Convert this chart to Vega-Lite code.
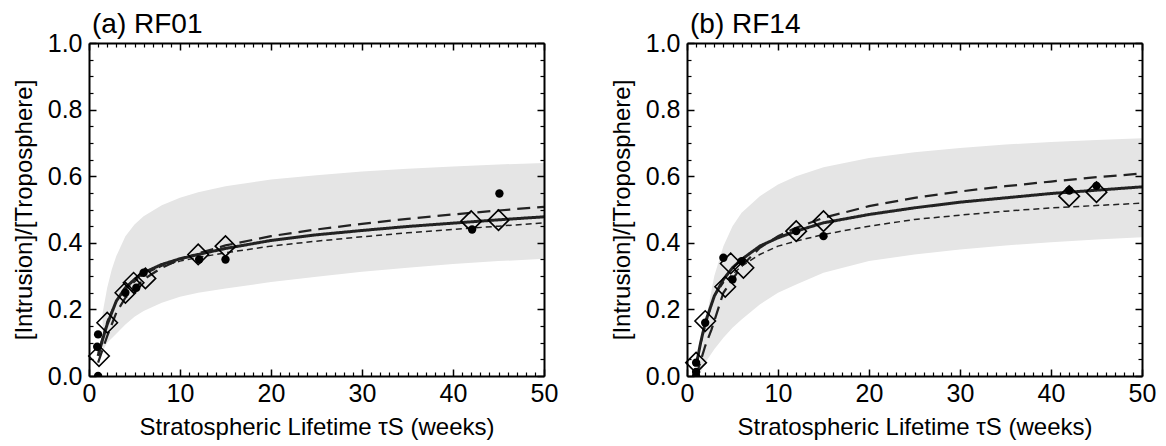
{
  "$schema": "https://vega.github.io/schema/vega-lite/v6.json",
  "padding": {"left": 12, "top": 11, "right": 5, "bottom": 2},
  "spacing": 52,
  "config": {
    "font": "Liberation Sans",
    "view": {"stroke": null},
    "axis": {"grid": false, "domainColor": "#000", "tickColor": "#000", "labelColor": "#000", "titleColor": "#000", "labelFont": "Liberation Sans", "titleFont": "Liberation Sans", "titleFontWeight": "normal"}
  },
  "datasets": {
    "bandA": [
      {"t": 1.5, "lo": 0.075, "hi": 0.19}, {"t": 2, "lo": 0.1, "hi": 0.265}, {"t": 2.5, "lo": 0.113, "hi": 0.32},
      {"t": 3, "lo": 0.127, "hi": 0.36}, {"t": 4, "lo": 0.155, "hi": 0.42}, {"t": 5, "lo": 0.178, "hi": 0.455},
      {"t": 6, "lo": 0.195, "hi": 0.48}, {"t": 8, "lo": 0.22, "hi": 0.513}, {"t": 10, "lo": 0.238, "hi": 0.535},
      {"t": 12, "lo": 0.25, "hi": 0.552}, {"t": 15, "lo": 0.263, "hi": 0.57}, {"t": 20, "lo": 0.282, "hi": 0.59},
      {"t": 25, "lo": 0.298, "hi": 0.603}, {"t": 30, "lo": 0.313, "hi": 0.614}, {"t": 35, "lo": 0.325, "hi": 0.622},
      {"t": 40, "lo": 0.336, "hi": 0.629}, {"t": 45, "lo": 0.345, "hi": 0.635}, {"t": 50, "lo": 0.352, "hi": 0.64}
    ],
    "curvesA": [
      {"model": "best", "t": 1, "y": 0.06}, {"model": "best", "t": 1.5, "y": 0.11}, {"model": "best", "t": 2, "y": 0.155},
      {"model": "best", "t": 3, "y": 0.225}, {"model": "best", "t": 4, "y": 0.265}, {"model": "best", "t": 5, "y": 0.29},
      {"model": "best", "t": 6, "y": 0.31}, {"model": "best", "t": 8, "y": 0.335}, {"model": "best", "t": 10, "y": 0.352},
      {"model": "best", "t": 12, "y": 0.365}, {"model": "best", "t": 15, "y": 0.383}, {"model": "best", "t": 20, "y": 0.407},
      {"model": "best", "t": 25, "y": 0.424}, {"model": "best", "t": 30, "y": 0.437}, {"model": "best", "t": 35, "y": 0.449},
      {"model": "best", "t": 40, "y": 0.459}, {"model": "best", "t": 45, "y": 0.469}, {"model": "best", "t": 50, "y": 0.478},
      {"model": "alt1", "t": 1, "y": 0.04}, {"model": "alt1", "t": 2, "y": 0.12}, {"model": "alt1", "t": 3, "y": 0.19},
      {"model": "alt1", "t": 4, "y": 0.235}, {"model": "alt1", "t": 6, "y": 0.29}, {"model": "alt1", "t": 8, "y": 0.325},
      {"model": "alt1", "t": 10, "y": 0.35}, {"model": "alt1", "t": 12, "y": 0.368}, {"model": "alt1", "t": 15, "y": 0.392},
      {"model": "alt1", "t": 20, "y": 0.42}, {"model": "alt1", "t": 25, "y": 0.44}, {"model": "alt1", "t": 30, "y": 0.457},
      {"model": "alt1", "t": 35, "y": 0.472}, {"model": "alt1", "t": 40, "y": 0.485}, {"model": "alt1", "t": 45, "y": 0.497},
      {"model": "alt1", "t": 50, "y": 0.508},
      {"model": "alt2", "t": 1, "y": 0.07}, {"model": "alt2", "t": 2, "y": 0.165}, {"model": "alt2", "t": 3, "y": 0.225},
      {"model": "alt2", "t": 4, "y": 0.26}, {"model": "alt2", "t": 6, "y": 0.305}, {"model": "alt2", "t": 8, "y": 0.33},
      {"model": "alt2", "t": 10, "y": 0.345}, {"model": "alt2", "t": 12, "y": 0.356}, {"model": "alt2", "t": 15, "y": 0.37},
      {"model": "alt2", "t": 20, "y": 0.39}, {"model": "alt2", "t": 25, "y": 0.405}, {"model": "alt2", "t": 30, "y": 0.418},
      {"model": "alt2", "t": 35, "y": 0.43}, {"model": "alt2", "t": 40, "y": 0.44}, {"model": "alt2", "t": 45, "y": 0.45},
      {"model": "alt2", "t": 50, "y": 0.46}
    ],
    "obsA": [
      {"t": 1, "y": 0.125}, {"t": 0.9, "y": 0.088}, {"t": 1, "y": 0.0}, {"t": 4, "y": 0.25}, {"t": 5.2, "y": 0.265},
      {"t": 6, "y": 0.31}, {"t": 12.1, "y": 0.35}, {"t": 15, "y": 0.35}, {"t": 42.1, "y": 0.44}, {"t": 45.1, "y": 0.548}
    ],
    "modA": [
      {"t": 1.1, "y": 0.06}, {"t": 2, "y": 0.16}, {"t": 4, "y": 0.25}, {"t": 4.9, "y": 0.28}, {"t": 6.2, "y": 0.293},
      {"t": 12, "y": 0.365}, {"t": 15, "y": 0.39}, {"t": 42, "y": 0.465}, {"t": 45, "y": 0.468}
    ],
    "bandB": [
      {"t": 1.2, "lo": 0.0, "hi": 0.02}, {"t": 1.5, "lo": 0.01, "hi": 0.06}, {"t": 2, "lo": 0.04, "hi": 0.15},
      {"t": 2.5, "lo": 0.06, "hi": 0.23}, {"t": 3, "lo": 0.08, "hi": 0.3}, {"t": 4, "lo": 0.115, "hi": 0.39},
      {"t": 5, "lo": 0.145, "hi": 0.45}, {"t": 6, "lo": 0.17, "hi": 0.49}, {"t": 8, "lo": 0.215, "hi": 0.54},
      {"t": 10, "lo": 0.25, "hi": 0.575}, {"t": 12, "lo": 0.275, "hi": 0.6}, {"t": 15, "lo": 0.31, "hi": 0.627},
      {"t": 20, "lo": 0.345, "hi": 0.655}, {"t": 25, "lo": 0.365, "hi": 0.672}, {"t": 30, "lo": 0.38, "hi": 0.685},
      {"t": 35, "lo": 0.392, "hi": 0.695}, {"t": 40, "lo": 0.402, "hi": 0.703}, {"t": 45, "lo": 0.41, "hi": 0.709},
      {"t": 50, "lo": 0.417, "hi": 0.714}
    ],
    "curvesB": [
      {"model": "best", "t": 1, "y": 0.03}, {"model": "best", "t": 1.5, "y": 0.1}, {"model": "best", "t": 2, "y": 0.16},
      {"model": "best", "t": 3, "y": 0.24}, {"model": "best", "t": 4, "y": 0.29}, {"model": "best", "t": 5, "y": 0.325},
      {"model": "best", "t": 6, "y": 0.35}, {"model": "best", "t": 8, "y": 0.39}, {"model": "best", "t": 10, "y": 0.415},
      {"model": "best", "t": 12, "y": 0.435}, {"model": "best", "t": 15, "y": 0.46}, {"model": "best", "t": 20, "y": 0.485},
      {"model": "best", "t": 25, "y": 0.505}, {"model": "best", "t": 30, "y": 0.522}, {"model": "best", "t": 35, "y": 0.535},
      {"model": "best", "t": 40, "y": 0.548}, {"model": "best", "t": 45, "y": 0.558}, {"model": "best", "t": 50, "y": 0.568},
      {"model": "alt1", "t": 1, "y": 0.0}, {"model": "alt1", "t": 2, "y": 0.09}, {"model": "alt1", "t": 2.7, "y": 0.14},
      {"model": "alt1", "t": 4, "y": 0.25}, {"model": "alt1", "t": 6, "y": 0.33}, {"model": "alt1", "t": 8, "y": 0.385},
      {"model": "alt1", "t": 10, "y": 0.42}, {"model": "alt1", "t": 12, "y": 0.445}, {"model": "alt1", "t": 15, "y": 0.475},
      {"model": "alt1", "t": 20, "y": 0.51}, {"model": "alt1", "t": 25, "y": 0.535}, {"model": "alt1", "t": 30, "y": 0.554},
      {"model": "alt1", "t": 35, "y": 0.57}, {"model": "alt1", "t": 40, "y": 0.584}, {"model": "alt1", "t": 45, "y": 0.597},
      {"model": "alt1", "t": 50, "y": 0.608},
      {"model": "alt2", "t": 1, "y": 0.04}, {"model": "alt2", "t": 2, "y": 0.15}, {"model": "alt2", "t": 3, "y": 0.24},
      {"model": "alt2", "t": 4, "y": 0.28}, {"model": "alt2", "t": 6, "y": 0.33}, {"model": "alt2", "t": 8, "y": 0.365},
      {"model": "alt2", "t": 10, "y": 0.39}, {"model": "alt2", "t": 12, "y": 0.405}, {"model": "alt2", "t": 15, "y": 0.425},
      {"model": "alt2", "t": 20, "y": 0.45}, {"model": "alt2", "t": 25, "y": 0.47}, {"model": "alt2", "t": 30, "y": 0.483},
      {"model": "alt2", "t": 35, "y": 0.495}, {"model": "alt2", "t": 40, "y": 0.505}, {"model": "alt2", "t": 45, "y": 0.512},
      {"model": "alt2", "t": 50, "y": 0.519}
    ],
    "obsB": [
      {"t": 1, "y": 0.04}, {"t": 1, "y": 0.012}, {"t": 1, "y": 0.0}, {"t": 2, "y": 0.16}, {"t": 4, "y": 0.355},
      {"t": 5, "y": 0.29}, {"t": 6, "y": 0.345}, {"t": 12, "y": 0.435}, {"t": 15, "y": 0.42}, {"t": 42, "y": 0.557},
      {"t": 45, "y": 0.571}
    ],
    "modB": [
      {"t": 1, "y": 0.04}, {"t": 2, "y": 0.165}, {"t": 4.2, "y": 0.268}, {"t": 4.8, "y": 0.338}, {"t": 6.2, "y": 0.325},
      {"t": 12, "y": 0.435}, {"t": 15, "y": 0.465}, {"t": 42, "y": 0.54}, {"t": 45, "y": 0.552}
    ]
  },
  "hconcat": [
    {
      "width": 455, "height": 333,
      "title": {"text": "(a) RF01", "anchor": "start", "frame": "group", "fontSize": 28, "font": "Liberation Sans", "fontWeight": "normal", "color": "#000", "offset": -8, "dx": 3},
      "resolve": {"axis": {"x": "independent", "y": "independent"}},
      "layer": [
        {
          "data": {"name": "bandA"},
          "mark": {"type": "area", "color": "#e5e5e5", "opacity": 1},
          "encoding": {
            "x": {"field": "t", "type": "quantitative", "scale": {"domain": [0, 50], "nice": false},
              "axis": {"orient": "bottom", "values": [0, 10, 20, 30, 40, 50], "tickSize": -7, "tickWidth": 1.5, "domain": true, "domainWidth": 2, "labelFontSize": 25, "labelPadding": 12, "labelFlush": false, "labelOverlap": false, "labelBound": false, "title": "Stratospheric Lifetime τS (weeks)", "titleFontSize": 24, "titlePadding": 9, "zindex": 1}},
            "y": {"field": "lo", "type": "quantitative", "scale": {"domain": [0, 1], "nice": false},
              "axis": {"orient": "left", "values": [0, 0.2, 0.4, 0.6, 0.8, 1.0], "format": ".1f", "tickSize": -7, "tickWidth": 1.5, "domain": true, "domainWidth": 2, "labelFontSize": 25, "labelPadding": 14, "labelFlush": false, "labelOverlap": false, "labelBound": false, "title": "[Intrusion]/[Troposphere]", "titleFontSize": 24, "titlePadding": 11, "zindex": 1}},
            "y2": {"field": "hi"}
          }
        },
        {
          "data": {"name": "curvesA"},
          "mark": {"type": "line", "color": "#222"},
          "encoding": {
            "x": {"field": "t", "type": "quantitative",
              "axis": {"orient": "bottom", "values": [1,2,3,4,5,6,7,8,9,11,12,13,14,15,16,17,18,19,21,22,23,24,25,26,27,28,29,31,32,33,34,35,36,37,38,39,41,42,43,44,45,46,47,48,49], "tickSize": -4, "tickWidth": 1.2, "domain": false, "labels": false, "title": null, "zindex": 1}},
            "y": {"field": "y", "type": "quantitative",
              "axis": {"orient": "left", "values": [0.05,0.1,0.15,0.25,0.3,0.35,0.45,0.5,0.55,0.65,0.7,0.75,0.85,0.9,0.95], "tickSize": -4, "tickWidth": 1.2, "domain": false, "labels": false, "title": null, "zindex": 1}},
            "strokeDash": {"field": "model", "type": "nominal", "scale": {"domain": ["best", "alt1", "alt2"], "range": [[1, 0], [13, 7], [6, 4]]}, "legend": null},
            "strokeWidth": {"field": "model", "type": "nominal", "scale": {"domain": ["best", "alt1", "alt2"], "range": [3, 1.5, 1.5]}, "legend": null}
          }
        },
        {
          "data": {"name": "obsA"},
          "mark": {"type": "point", "shape": "circle", "filled": true, "color": "#000", "size": 70, "opacity": 1, "clip": true},
          "encoding": {
            "x": {"field": "t", "type": "quantitative",
              "axis": {"orient": "top", "values": [0, 10, 20, 30, 40, 50], "tickSize": -7, "tickWidth": 1.5, "domain": true, "domainWidth": 2, "labels": false, "title": null, "zindex": 1}},
            "y": {"field": "y", "type": "quantitative",
              "axis": {"orient": "right", "values": [0, 0.2, 0.4, 0.6, 0.8, 1.0], "tickSize": -7, "tickWidth": 1.5, "domain": true, "domainWidth": 2, "labels": false, "title": null, "zindex": 1}}
          }
        },
        {
          "data": {"name": "modA"},
          "mark": {"type": "point", "shape": "diamond", "filled": false, "color": "#000", "strokeWidth": 1.6, "size": 420, "opacity": 1},
          "encoding": {
            "x": {"field": "t", "type": "quantitative",
              "axis": {"orient": "top", "values": [1,2,3,4,5,6,7,8,9,11,12,13,14,15,16,17,18,19,21,22,23,24,25,26,27,28,29,31,32,33,34,35,36,37,38,39,41,42,43,44,45,46,47,48,49], "tickSize": -4, "tickWidth": 1.2, "domain": false, "labels": false, "title": null, "zindex": 1}},
            "y": {"field": "y", "type": "quantitative",
              "axis": {"orient": "right", "values": [0.05,0.1,0.15,0.25,0.3,0.35,0.45,0.5,0.55,0.65,0.7,0.75,0.85,0.9,0.95], "tickSize": -4, "tickWidth": 1.2, "domain": false, "labels": false, "title": null, "zindex": 1}}
          }
        }
      ]
    },
    {
      "width": 455, "height": 333,
      "title": {"text": "(b) RF14", "anchor": "start", "frame": "group", "fontSize": 28, "font": "Liberation Sans", "fontWeight": "normal", "color": "#000", "offset": -8, "dx": 3},
      "resolve": {"axis": {"x": "independent", "y": "independent"}},
      "layer": [
        {
          "data": {"name": "bandB"},
          "mark": {"type": "area", "color": "#e5e5e5", "opacity": 1},
          "encoding": {
            "x": {"field": "t", "type": "quantitative", "scale": {"domain": [0, 50], "nice": false},
              "axis": {"orient": "bottom", "values": [0, 10, 20, 30, 40, 50], "tickSize": -7, "tickWidth": 1.5, "domain": true, "domainWidth": 2, "labelFontSize": 25, "labelPadding": 12, "labelFlush": false, "labelOverlap": false, "labelBound": false, "title": "Stratospheric Lifetime τS (weeks)", "titleFontSize": 24, "titlePadding": 9, "zindex": 1}},
            "y": {"field": "lo", "type": "quantitative", "scale": {"domain": [0, 1], "nice": false},
              "axis": {"orient": "left", "values": [0, 0.2, 0.4, 0.6, 0.8, 1.0], "format": ".1f", "tickSize": -7, "tickWidth": 1.5, "domain": true, "domainWidth": 2, "labelFontSize": 25, "labelPadding": 14, "labelFlush": false, "labelOverlap": false, "labelBound": false, "title": "[Intrusion]/[Troposphere]", "titleFontSize": 24, "titlePadding": 11, "zindex": 1}},
            "y2": {"field": "hi"}
          }
        },
        {
          "data": {"name": "curvesB"},
          "mark": {"type": "line", "color": "#222"},
          "encoding": {
            "x": {"field": "t", "type": "quantitative",
              "axis": {"orient": "bottom", "values": [1,2,3,4,5,6,7,8,9,11,12,13,14,15,16,17,18,19,21,22,23,24,25,26,27,28,29,31,32,33,34,35,36,37,38,39,41,42,43,44,45,46,47,48,49], "tickSize": -4, "tickWidth": 1.2, "domain": false, "labels": false, "title": null, "zindex": 1}},
            "y": {"field": "y", "type": "quantitative",
              "axis": {"orient": "left", "values": [0.05,0.1,0.15,0.25,0.3,0.35,0.45,0.5,0.55,0.65,0.7,0.75,0.85,0.9,0.95], "tickSize": -4, "tickWidth": 1.2, "domain": false, "labels": false, "title": null, "zindex": 1}},
            "strokeDash": {"field": "model", "type": "nominal", "scale": {"domain": ["best", "alt1", "alt2"], "range": [[1, 0], [13, 7], [6, 4]]}, "legend": null},
            "strokeWidth": {"field": "model", "type": "nominal", "scale": {"domain": ["best", "alt1", "alt2"], "range": [3, 1.5, 1.5]}, "legend": null}
          }
        },
        {
          "data": {"name": "obsB"},
          "mark": {"type": "point", "shape": "circle", "filled": true, "color": "#000", "size": 70, "opacity": 1, "clip": true},
          "encoding": {
            "x": {"field": "t", "type": "quantitative",
              "axis": {"orient": "top", "values": [0, 10, 20, 30, 40, 50], "tickSize": -7, "tickWidth": 1.5, "domain": true, "domainWidth": 2, "labels": false, "title": null, "zindex": 1}},
            "y": {"field": "y", "type": "quantitative",
              "axis": {"orient": "right", "values": [0, 0.2, 0.4, 0.6, 0.8, 1.0], "tickSize": -7, "tickWidth": 1.5, "domain": true, "domainWidth": 2, "labels": false, "title": null, "zindex": 1}}
          }
        },
        {
          "data": {"name": "modB"},
          "mark": {"type": "point", "shape": "diamond", "filled": false, "color": "#000", "strokeWidth": 1.6, "size": 420, "opacity": 1},
          "encoding": {
            "x": {"field": "t", "type": "quantitative",
              "axis": {"orient": "top", "values": [1,2,3,4,5,6,7,8,9,11,12,13,14,15,16,17,18,19,21,22,23,24,25,26,27,28,29,31,32,33,34,35,36,37,38,39,41,42,43,44,45,46,47,48,49], "tickSize": -4, "tickWidth": 1.2, "domain": false, "labels": false, "title": null, "zindex": 1}},
            "y": {"field": "y", "type": "quantitative",
              "axis": {"orient": "right", "values": [0.05,0.1,0.15,0.25,0.3,0.35,0.45,0.5,0.55,0.65,0.7,0.75,0.85,0.9,0.95], "tickSize": -4, "tickWidth": 1.2, "domain": false, "labels": false, "title": null, "zindex": 1}}
          }
        }
      ]
    }
  ]
}
